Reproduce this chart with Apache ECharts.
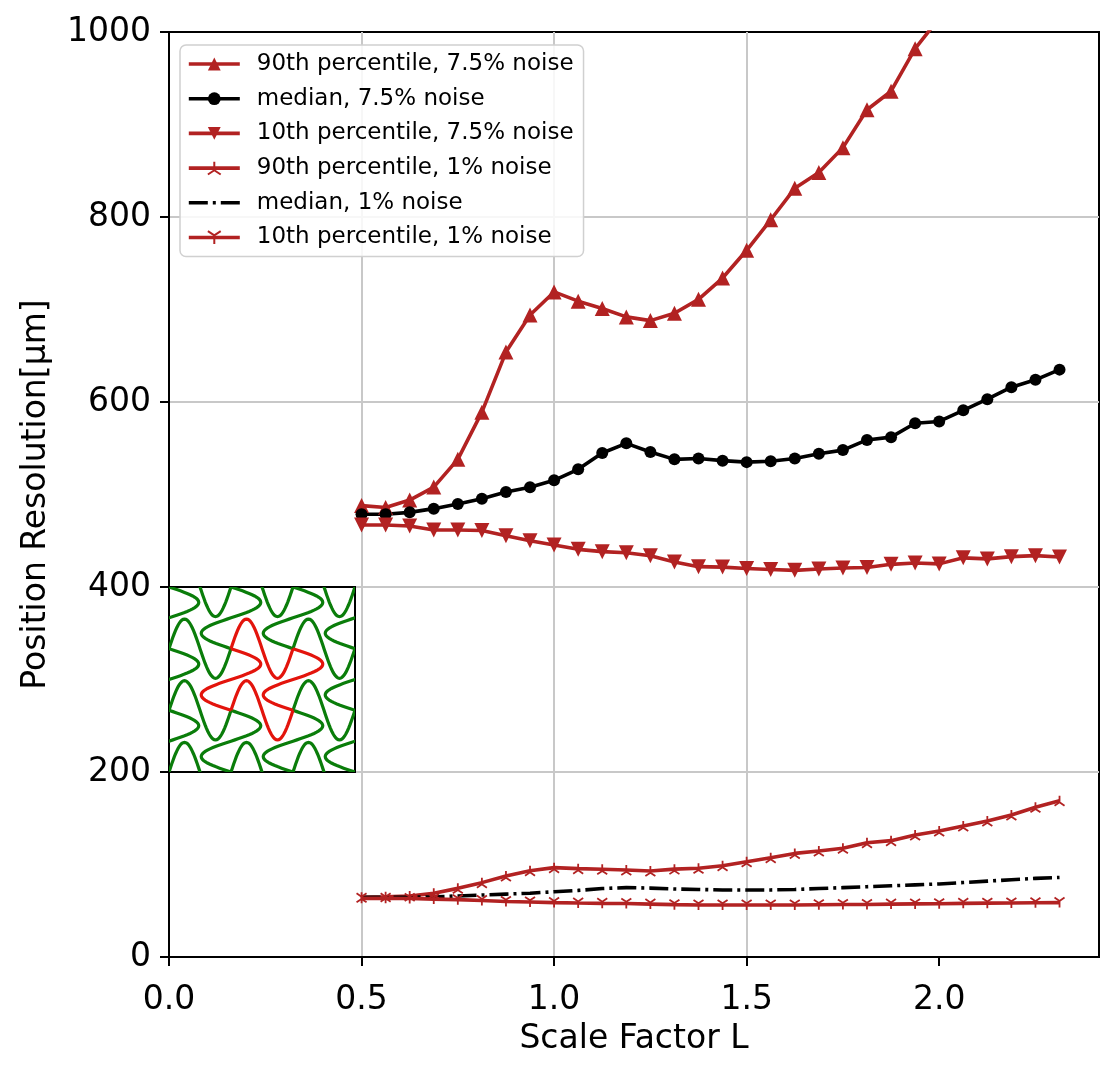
<!DOCTYPE html>
<html>
<head>
<meta charset="utf-8">
<title>Position resolution vs scale factor</title>
<script src="https://cdn.jsdelivr.net/npm/echarts@6/dist/echarts.min.js"></script>
<style>
  html, body { margin: 0; padding: 0; background: #fff; }
  #chart { width: 1118px; height: 1073px; }
</style>
</head>
<body>
<div id="chart"></div>
<script>
// scale factor L (x values)
var scaleL = [0.5, 0.5625, 0.625, 0.6875, 0.75, 0.8125, 0.875, 0.9375, 1.0, 1.0625,
              1.125, 1.1875, 1.25, 1.3125, 1.375, 1.4375, 1.5, 1.5625, 1.625, 1.6875,
              1.75, 1.8125, 1.875, 1.9375, 2.0, 2.0625, 2.125, 2.1875, 2.25, 2.3125];

// 7.5% noise
var p90Noise75 = [488, 486, 494, 508, 538, 589, 654, 694, 719, 709,
                  701, 692, 688, 696, 711, 734, 764, 797, 831, 848,
                  875, 916, 936, 982, 1015, 1050, 1085, 1120, 1155, 1190];
var medNoise75 = [478.6, 478.6, 480.7, 484.7, 489.7, 495.5, 502.7, 507.8, 515.3, 527.2,
                  544.9, 555.3, 546, 538, 539, 536.6, 535, 536, 539, 544,
                  548, 559, 562, 577, 579, 591, 603, 616, 624, 635];
var p10Noise75 = [467, 467, 466, 461.6, 461.6, 461, 455.5, 450, 445.4, 440.7,
                  438.2, 437, 433.8, 427, 422, 421.5, 420, 419, 418, 419.5,
                  420.5, 421, 424.5, 426, 425, 431.5, 430.4, 432.8, 433.9, 432.4];

// 1% noise
var p90Noise1 = [64.5, 65.2, 66, 68.8, 74.2, 80.4, 87.6, 93.3, 96.6, 95.5,
                 94.8, 94, 93, 95, 95.9, 98.7, 103, 107.4, 112, 114.6,
                 117.5, 123.6, 125.8, 131.9, 136.2, 141.6, 147, 153.5, 161.8, 169];
var medNoise1 = [64.5, 64.5, 64.7, 65, 66, 67, 68, 69, 70.5, 72,
                 74, 75, 74.5, 73.5, 73, 72.5, 72.4, 72.5, 73, 74,
                 75, 76, 77, 78, 79, 80.5, 82, 83.5, 85, 86];
var p10Noise1 = [63.4, 63.4, 63.2, 62.6, 62, 61, 60, 59.5, 58.8, 58.3,
                 58, 57.8, 57.2, 56.6, 56.2, 56.2, 56.2, 56.2, 56.2, 56.5,
                 56.8, 56.8, 57.2, 57.4, 57.6, 58, 58.2, 58.4, 58.6, 58.8];

var xTicks = [0, 0.5, 1.0, 1.5, 2.0];

// inset picture: lattice edges [i, j, 0 = horizontal / 1 = vertical, 1 = red]
var insetEdges = [
  [0, 0, 0, 0], [1, 0, 0, 0], [2, 0, 0, 0],
  [0, 1, 0, 0], [2, 1, 0, 0],
  [0, 2, 0, 0], [2, 2, 0, 0],
  [0, 3, 0, 0], [1, 3, 0, 0], [2, 3, 0, 0],
  [0, 0, 1, 0], [0, 1, 1, 0], [0, 2, 1, 0],
  [1, 0, 1, 0], [1, 2, 1, 0],
  [2, 0, 1, 0], [2, 2, 1, 0],
  [3, 0, 1, 0], [3, 1, 1, 0], [3, 2, 1, 0],
  [1, 1, 0, 1], [1, 2, 0, 1], [1, 1, 1, 1], [2, 1, 1, 1]
];

var RED = '#b22222';
var FONT = 'DejaVu Sans';
var INSET_AMP = 0.48;
var DASHDOT = [19, 5, 3, 5];
var TRI_UP = 'path://M10,10L10,0M10,10L1.34,15M10,10L18.66,15';
var TRI_DOWN = 'path://M10,10L10,20M10,10L1.34,5M10,10L18.66,5';

function pairs(ys) {
    return scaleL.map(function (x, i) { return [x, ys[i]]; });
}

function lineSeries(name, ys, color, extra) {
    var s = {
        name: name,
        type: 'line',
        data: pairs(ys),
        xAxisIndex: 0,
        yAxisIndex: 0,
        showAllSymbol: true,
        lineStyle: {color: color, width: 3.6},
        itemStyle: {color: color, borderColor: color, borderWidth: 0},
        emphasis: {disabled: true},
        z: 3
    };
    for (var k in extra) s[k] = extra[k];
    return s;
}

// one sine period along a lattice edge
function renderInsetEdge(params, api) {
    var i = api.value(0), j = api.value(1), vertical = api.value(2) === 1;
    var p0 = api.coord([i, j]);
    var cell = api.size([1, 1]);
    var pts = [];
    for (var k = 0; k <= 48; k++) {
        var t = k / 48, s = Math.sin(2 * Math.PI * t);
        pts.push(vertical
            ? [p0[0] + INSET_AMP * cell[0] * s, p0[1] + t * cell[1]]
            : [p0[0] + t * cell[0], p0[1] - INSET_AMP * cell[1] * s]);
    }
    return {
        type: 'polyline',
        shape: {points: pts},
        style: {stroke: api.value(3) ? '#e3140c' : '#0a7d0a', lineWidth: 3.2, fill: null}
    };
}

var chart = echarts.init(document.getElementById('chart'), null, {renderer: 'canvas'});

var option = {
    animation: false,
    backgroundColor: '#fff',
    textStyle: {fontFamily: FONT},
    grid: [
        {left: 169, top: 32, width: 930, height: 925, show: true,
         borderColor: '#000', borderWidth: 2, backgroundColor: 'transparent', outerBoundsMode: 'none'},
        {left: 169, top: 587, width: 186, height: 185, show: true, z: 5,
         borderColor: '#000', borderWidth: 2, backgroundColor: '#fff', outerBoundsMode: 'none'}
    ],
    legend: {
        orient: 'vertical',
        left: 180, top: 45,
        padding: [7, 10, 7, 7],
        itemWidth: 51, itemHeight: 16, itemGap: 10.7,
        selectedMode: false,
        backgroundColor: 'rgba(255,255,255,0.85)',
        borderColor: '#d0d0d0', borderWidth: 1.5, borderRadius: 6,
        lineStyle: {width: 3.6},
        textStyle: {fontFamily: FONT, fontSize: 23, lineHeight: 24, color: '#000', padding: [0, 0, 0, 12]},
        data: [
            {name: '90th percentile, 7.5% noise'},
            {name: 'median, 7.5% noise'},
            {name: '10th percentile, 7.5% noise'},
            {name: '90th percentile, 1% noise'},
            {name: 'median, 1% noise', itemStyle: {opacity: 0},
             lineStyle: {type: DASHDOT, width: 3.6, color: '#000'}},
            {name: '10th percentile, 1% noise'}
        ]
    },
    xAxis: [
        {
            type: 'value', gridIndex: 0, min: 0, max: 2.415, interval: 0.5,
            name: 'Scale Factor L', nameLocation: 'middle', nameGap: 66,
            nameTextStyle: {fontFamily: FONT, fontSize: 33, color: '#000'},
            axisLine: {lineStyle: {color: '#000', width: 2}},
            axisTick: {show: true, inside: false, length: 9, lineStyle: {color: '#000', width: 2}, customValues: xTicks},
            axisLabel: {fontFamily: FONT, fontSize: 33, color: '#000', margin: 27, customValues: xTicks,
                        formatter: function (v) { return v.toFixed(1); }},
            splitLine: {show: true, showMinLine: false, showMaxLine: false, lineStyle: {color: '#c8c8c8', width: 2}}
        },
        {type: 'value', gridIndex: 1, min: 0, max: 3, show: false}
    ],
    yAxis: [
        {
            type: 'value', gridIndex: 0, min: 0, max: 1000, interval: 200,
            name: 'Position Resolution[μm]', nameLocation: 'middle', nameGap: 116, nameRotate: 90,
            nameTextStyle: {fontFamily: FONT, fontSize: 33, color: '#000'},
            axisLine: {show: true, lineStyle: {color: '#000', width: 2}},
            axisTick: {show: true, inside: false, length: 9, lineStyle: {color: '#000', width: 2}},
            axisLabel: {fontFamily: FONT, fontSize: 33, color: '#000', margin: 18,
                        formatter: function (v) { return String(v); }},
            splitLine: {show: true, showMinLine: false, showMaxLine: false, lineStyle: {color: '#c8c8c8', width: 2}}
        },
        {type: 'value', gridIndex: 1, min: 0, max: 3, inverse: true, show: false}
    ],
    series: [
        lineSeries('90th percentile, 7.5% noise', p90Noise75, RED, {symbol: 'triangle', symbolSize: 15}),
        lineSeries('median, 7.5% noise', medNoise75, '#000', {symbol: 'circle', symbolSize: 12}),
        lineSeries('10th percentile, 7.5% noise', p10Noise75, RED, {symbol: 'triangle', symbolSize: 15, symbolRotate: 180}),
        lineSeries('90th percentile, 1% noise', p90Noise1, RED, {symbol: TRI_UP, symbolSize: 10,
            itemStyle: {color: RED, borderColor: RED, borderWidth: 1.8}}),
        lineSeries('median, 1% noise', medNoise1, '#000', {symbol: 'none',
            lineStyle: {color: '#000', width: 3.6, type: DASHDOT}}),
        lineSeries('10th percentile, 1% noise', p10Noise1, RED, {symbol: TRI_DOWN, symbolSize: 10,
            itemStyle: {color: RED, borderColor: RED, borderWidth: 1.8}}),
        {
            type: 'custom',
            xAxisIndex: 1, yAxisIndex: 1,
            clip: true,
            silent: true,
            z: 6,
            encode: {x: 0, y: 1},
            data: insetEdges,
            renderItem: renderInsetEdge
        }
    ]
};

chart.setOption(option);
</script>
</body>
</html>
